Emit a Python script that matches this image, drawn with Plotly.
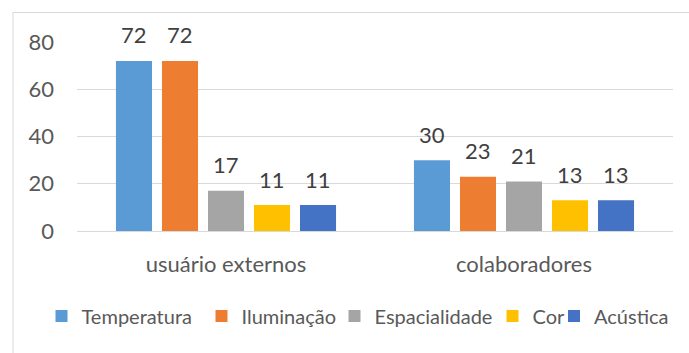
import plotly.graph_objects as go

# Survey categories and the share (%) of each comfort factor
categories = ["usuário externos", "colaboradores"]
series_names = ["Temperatura", "Iluminação", "Espacialidade", "Cor", "Acústica"]
series_values = [
    [72, 30],
    [72, 23],
    [17, 21],
    [11, 13],
    [11, 13],
]
series_colors = ["#5B9BD5", "#ED7D31", "#A5A5A5", "#FFC000", "#4472C4"]
y_ticks = [0, 20, 40, 60, 80]

W, H = 689, 353
ML, MR, MT, MB = 77, 16, 42, 122
FONT = "Lato"
FS = 22
BARGAP = 0.228
GROUPGAP = 0.217

# horizontal pixel position of each legend swatch centre, and legend row height
legend_swatch_x = [61.5, 221.5, 354.5, 512.5, 574]
legend_row_y = 316

fig = go.Figure()
legend_names = ["legend"] + [f"legend{k}" for k in range(2, len(series_names) + 1)]
for name, vals, col, lg in zip(series_names, series_values, series_colors, legend_names):
    fig.add_trace(go.Bar(
        name=name,
        x=categories,
        y=vals,
        marker=dict(color=col, line=dict(width=0)),
        legend=lg,
    ))

pw = W - ML - MR
ph = H - MT - MB

# value labels above each bar, shifted to the bar's slot within its group
slot = (1 - BARGAP) * pw / len(categories) / len(series_names)
annotations = []
for i, vals in enumerate(series_values):
    for cat, v in zip(categories, vals):
        annotations.append(dict(
            x=cat, y=v, xref="x", yref="y", text=str(v), showarrow=False,
            xshift=(i - (len(series_names) - 1) / 2) * slot,
            yanchor="middle", yshift=26,
            font=dict(family=FONT, size=FS, color="#404040"),
        ))

# light frame around the whole chart area
fig.add_shape(
    type="rect", xref="paper", yref="paper",
    x0=(13 - ML) / pw, x1=(W + 5 - ML) / pw,
    y0=-(H + 5 - MT - ph) / ph, y1=(MT - 12.5) / ph + 1,
    line=dict(color="#D9D9D9", width=1), fillcolor="rgba(0,0,0,0)",
    layer="below",
)

# one single-entry legend per series, laid out in a row under the chart
legend_layouts = {}
for lg, sx in zip(legend_names, legend_swatch_x):
    legend_layouts[lg] = dict(
        orientation="h", xref="container", yref="container",
        x=(sx - 20) / W, xanchor="left",
        y=(H - legend_row_y) / H, yanchor="middle",
        font=dict(family=FONT, size=20, color="#595959"),
        itemwidth=30, bgcolor="rgba(0,0,0,0)",
    )

fig.update_layout(
    width=W, height=H,
    margin=dict(l=ML, r=MR, t=MT, b=MB, autoexpand=False),
    paper_bgcolor="white", plot_bgcolor="white",
    barmode="group", bargap=BARGAP, bargroupgap=GROUPGAP,
    font=dict(family=FONT, size=FS, color="#595959"),
    annotations=annotations,
    showlegend=True,
    **legend_layouts,
    xaxis=dict(
        showgrid=False, showline=False, zeroline=False,
        ticks="", ticklabelstandoff=18,
        tickfont=dict(family=FONT, size=FS, color="#595959"),
    ),
    yaxis=dict(
        range=[0, 80], tickvals=y_ticks,
        showgrid=True, gridcolor="#D9D9D9", gridwidth=1,
        zeroline=True, zerolinecolor="#D9D9D9", zerolinewidth=1,
        showline=False, ticks="", ticklabelstandoff=22,
        tickfont=dict(family=FONT, size=FS, color="#595959"),
    ),
)

fig.write_html("out.html")
